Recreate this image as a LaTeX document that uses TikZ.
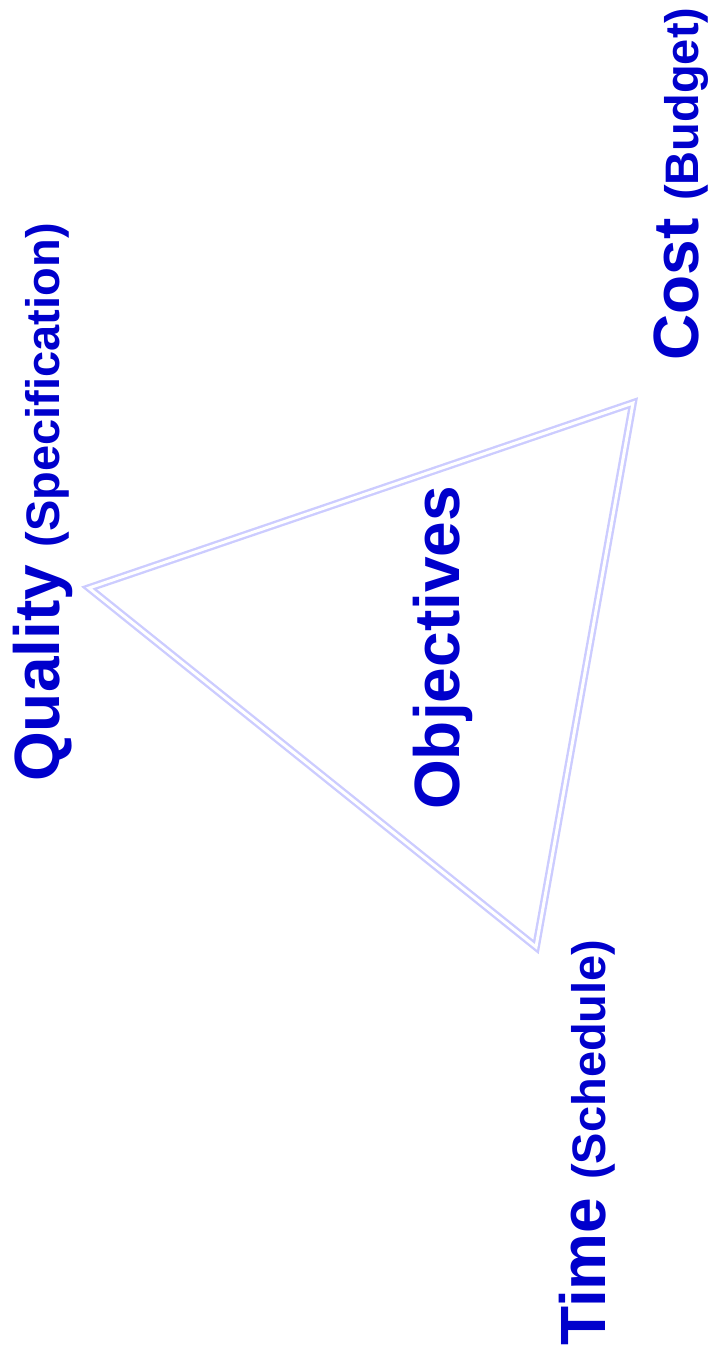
\documentclass[tikz,border=0pt]{standalone}
\usepackage{fontspec}
\setmainfont{Liberation Sans}
\usetikzlibrary{positioning}
\definecolor{objblue}{HTML}{0000CC}
\definecolor{trilav}{HTML}{CCCCFF}

\tikzset{
  bigtxt/.style={objblue,font=\fontsize{64}{64}\selectfont\bfseries,rotate=90,anchor=base west,inner sep=0pt},
  tribox/.style={draw=trilav,double=white,line width=2.4pt,double distance=3pt,line join=miter}
}
\newcommand{\subtxt}[1]{{\fontsize{47}{47}\selectfont #1}}

\begin{document}
\begin{tikzpicture}[x=1pt,y=-1pt]
  \useasboundingbox (0,0) rectangle (709,1358);

  % =====================================================================
  % Triangle corners
  % =====================================================================
  \coordinate (qual) at (89,588);
  \coordinate (cost) at (633,403);
  \coordinate (time) at (536,947);

  % Triangle outline (double line)
  \draw[tribox] (qual) -- (cost) -- (time) -- cycle;

  % =====================================================================
  % Labels
  % =====================================================================
  \node[bigtxt] (qlabel) at (59,782) {Quality \subtxt{(Specification)}};
  \node[bigtxt] (clabel) at (698,361) {Cost \subtxt{(Budget)}};
  \node[bigtxt] (tlabel) at (605,1346) {Time \subtxt{(Schedule)}};

  % Center label
  \node[bigtxt] (obj) at (459,810) {Objectives};

\end{tikzpicture}
\end{document}
